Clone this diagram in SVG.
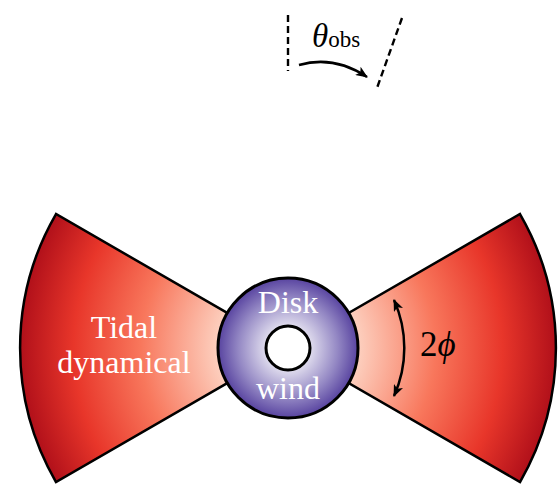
<svg xmlns="http://www.w3.org/2000/svg" width="559" height="494" viewBox="0 0 559 494">
  <style>
    .edge { stroke: #000; stroke-width: 2.5; fill: none; }
    .dash { stroke: #000; stroke-width: 2.4; fill: none; stroke-dasharray: 7 4; }
    .label { font-family: "Liberation Serif", "DejaVu Serif", serif; font-size: 32px; text-anchor: middle; }
    .math { font-family: "Liberation Serif", "DejaVu Serif", serif; }
    .light { fill: #ffffff; }
    .dark { fill: #000000; }
  </style>
  <defs>
    <radialGradient id="ejectaFill" gradientUnits="userSpaceOnUse" cx="288" cy="348" r="268">
      <stop offset="0.24" stop-color="#fdd6c6"/>
      <stop offset="0.55" stop-color="#f8775c"/>
      <stop offset="0.8" stop-color="#e8362a"/>
      <stop offset="1" stop-color="#b1101a"/>
    </radialGradient>
    <radialGradient id="windFill" gradientUnits="userSpaceOnUse" cx="288" cy="348" r="71">
      <stop offset="0" stop-color="#ffffff"/>
      <stop offset="0.3" stop-color="#e2dfef"/>
      <stop offset="0.7" stop-color="#9488c4"/>
      <stop offset="1" stop-color="#55409e"/>
    </radialGradient>
    <marker id="head" viewBox="0 0 12 10" refX="11" refY="5" markerWidth="12" markerHeight="10" markerUnits="userSpaceOnUse" orient="auto-start-reverse">
      <path d="M0,0 L12,5 L0,10 L3,5 Z" fill="#000"/>
    </marker>
  </defs>

  <!-- dynamical ejecta cones -->
  <g id="tidal-left">
    <path d="M288,348 L56,214 A268,268 0 0 0 56,482 Z" class="edge" style="fill:url(#ejectaFill)"/>
    <text class="label light" x="124" y="338">Tidal</text>
    <text class="label light" x="124" y="373">dynamical</text>
  </g>
  <g id="tidal-right">
    <path d="M288,348 L520,214 A268,268 0 0 1 520,482 Z" class="edge" style="fill:url(#ejectaFill)"/>
  </g>

  <!-- disk wind torus -->
  <g id="disk-wind">
    <circle cx="288" cy="348" r="70" style="fill:url(#windFill)" stroke="#000" stroke-width="3"/>
    <circle cx="288" cy="348" r="22" fill="#fff" stroke="#000" stroke-width="3"/>
    <text class="label light" x="288" y="313">Disk</text>
    <text class="label light" x="288" y="399">wind</text>
  </g>

  <!-- opening angle -->
  <g id="opening-angle">
    <text class="math dark" x="420" y="356" style="font-size:35px"><tspan>2</tspan><tspan font-style="italic">ϕ</tspan></text>
  </g>

  <!-- observer inclination -->
  <g id="observer">
    <text class="math dark" x="312" y="47"><tspan font-style="italic" style="font-size:33px">θ</tspan><tspan style="font-size:23px">obs</tspan></text>
  </g>

  <g id="connectors">
    <path class="edge" d="M394,300 A117,117 0 0 1 394,396" marker-start="url(#head)" marker-end="url(#head)" stroke-width="2"/>
    <line class="dash" x1="288" y1="15" x2="288" y2="71"/>
    <line class="dash" x1="402" y1="18" x2="377" y2="88"/>
    <path class="edge" d="M299,65 Q334,55 367,77" stroke-width="2" marker-end="url(#head)"/>
  </g>
</svg>
